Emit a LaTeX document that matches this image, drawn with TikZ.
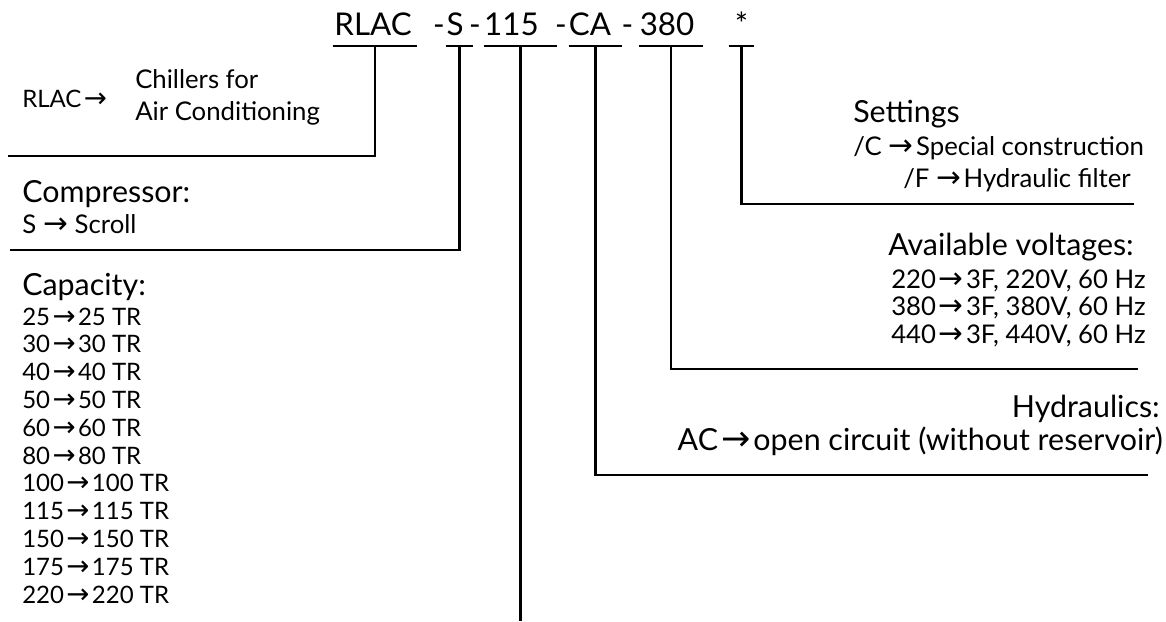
\documentclass[tikz,border=0pt]{standalone}
\usepackage{fontspec}
\setmainfont{Lato}
\newfontfamily\arrfont[Scale=1.15]{DejaVu Sans}
\newcommand{\ar}{\hspace{0.1em}{\arrfont →}\hspace{0.1em}}
\tikzset{
  code/.style={font=\fontsize{23.5}{24}\selectfont, inner sep=0pt, text height=17pt, text depth=8pt, anchor=base},
  head/.style={font=\fontsize{22.8}{26}\selectfont, inner sep=0pt, anchor=base west},
  item/.style={font=\fontsize{19.3}{22}\selectfont, inner sep=0pt, anchor=base west},
  capitem/.style={font=\fontsize{18}{21}\selectfont, inner sep=0pt, anchor=base west},
  lead/.style={line width=1.8pt},
}
\begin{document}
\begin{tikzpicture}[x=0.75pt,y=-0.75pt]
\useasboundingbox (0,0) rectangle (1166,621);

% model code
\node[code, minimum width=63pt] (cR) at (375,35) {RLAC\kern3pt};
\node[code] (h1) at (439,35) {-};
\node[code, minimum width=20.25pt] (cS) at (459.5,35) {S\kern6.75pt};
\node[code] (h2) at (475,35) {-};
\node[code, minimum width=42.75pt] (c115) at (520.5,35) {115\kern13.5pt};
\node[code] (h3) at (561,35) {-};
\node[code, minimum width=30.75pt] (cCA) at (595.5,35) {CA\kern8.25pt};
\node[code] (h4) at (627.5,35) {-};
\node[code, minimum width=48pt] (c380) at (671,35) {380\kern6pt};
\node[code, minimum width=18.75pt] (cX) at (741.5,35) {*};

\coordinate (kR) at (8,156);
\coordinate (kS) at (10,250);
\coordinate (k115) at (520.5,621);
\coordinate (kCA) at (1148,475);
\coordinate (k380) at (1138,369);
\coordinate (kX) at (1134,204);

\draw[lead] (cR.south west) -- (cR.south east);
\draw[lead] (cS.south west) -- (cS.south east);
\draw[lead] (c115.south west) -- (c115.south east);
\draw[lead] (cCA.south west) -- (cCA.south east);
\draw[lead] (c380.south west) -- (c380.south east);
\draw[lead] (cX.south west) -- (cX.south east);

\draw[lead] (cR.south) |- (kR);
\draw[lead] (cS.south) |- (kS);
\draw[lead] (c115.south) -- (k115);
\draw[lead] (cCA.south) |- (kCA);
\draw[lead] (c380.south) |- (k380);
\draw[lead] (cX.south) |- (kX);

% left side
\node[capitem] (tRlac) at (22,107) {RLAC\ar};
\node[item] (tChill) at (135,88) {Chillers for};
\node[item] (tAir) at (135,120) {Air Conditioning};

\node[head] (tComp) at (22,202) {Compressor:};
\node[item] (tScroll) at (22,233) {S\,\ar\,Scroll};

\node[head] (tCap) at (22,295) {Capacity:};
\node[capitem] (cap1) at (22,325) {25\ar 25 TR};
\node[capitem] (cap2) at (22,352.8) {30\ar 30 TR};
\node[capitem] (cap3) at (22,380.6) {40\ar 40 TR};
\node[capitem] (cap4) at (22,408.4) {50\ar 50 TR};
\node[capitem] (cap5) at (22,436.2) {60\ar 60 TR};
\node[capitem] (cap6) at (22,464) {80\ar 80 TR};
\node[capitem] (cap7) at (22,491.8) {100\ar 100 TR};
\node[capitem] (cap8) at (22,519.6) {115\ar 115 TR};
\node[capitem] (cap9) at (22,547.4) {150\ar 150 TR};
\node[capitem] (cap10) at (22,575.2) {175\ar 175 TR};
\node[capitem] (cap11) at (22,603) {220\ar 220 TR};

% right side
\node[head] (tSet) at (853,122) {Settings};
\node[item] (tSetC) at (853,155) {/C\,\ar Special construction};
\node[item] (tSetF) at (903,187) {/F\,\ar Hydraulic filter};

\node[head] (tVolt) at (888,255) {Available voltages:};
\node[item] (tV1) at (891,288) {220\ar 3F, 220V, 60 Hz};
\node[item] (tV2) at (891,315) {380\ar 3F, 380V, 60 Hz};
\node[item] (tV3) at (891,343) {440\ar 3F, 440V, 60 Hz};

\node[head, anchor=base east] (tHyd) at (1160,417) {Hydraulics:};
\node[head, anchor=base east] (tAC) at (1163,450) {AC\ar open circuit (without reservoir)};
\end{tikzpicture}
\end{document}
